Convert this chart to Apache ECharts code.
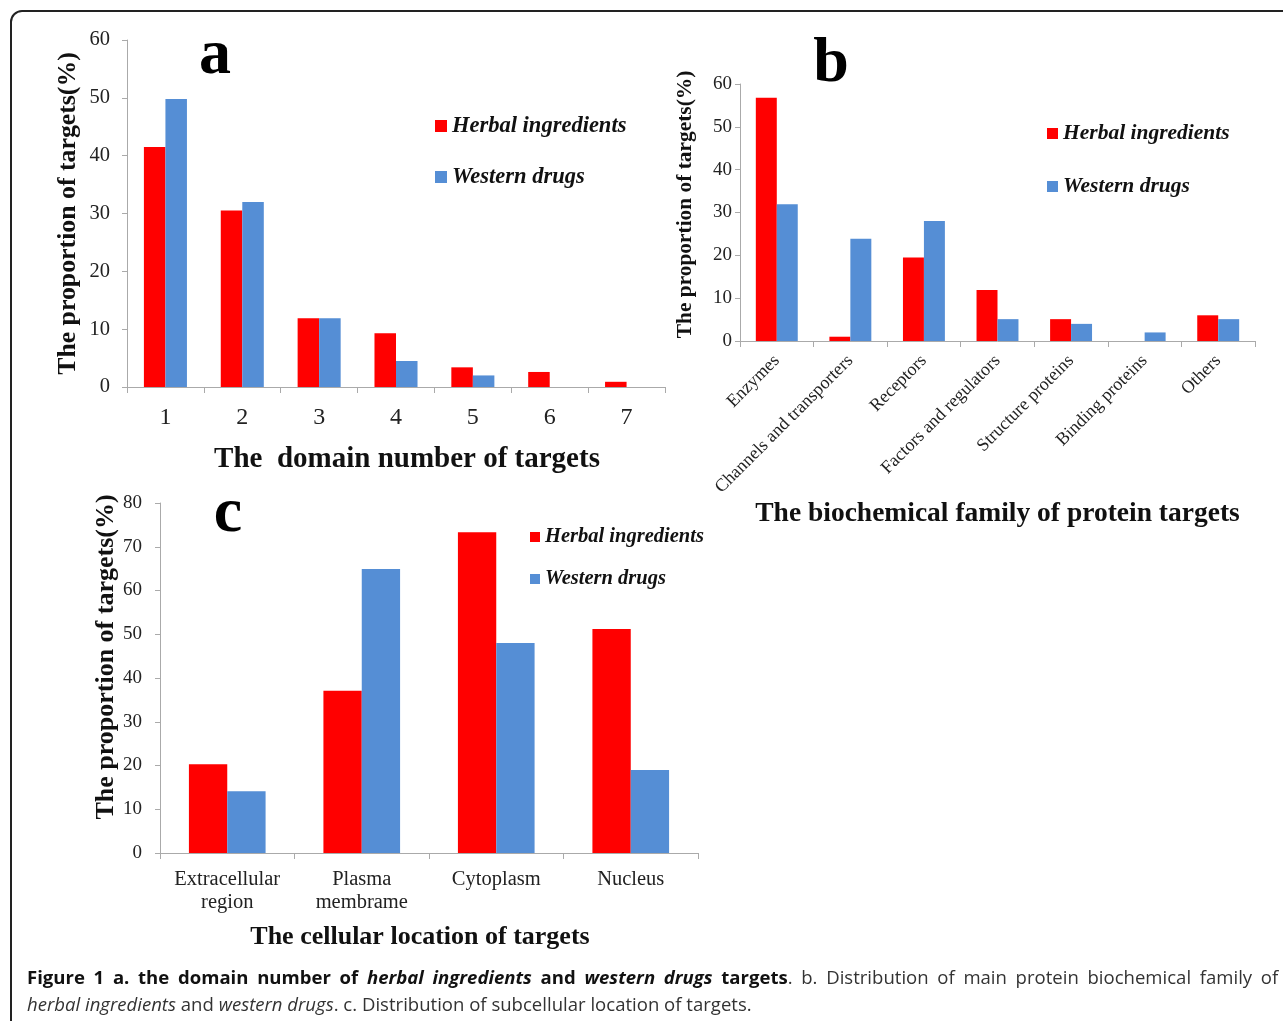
<!DOCTYPE html>
<html><head><meta charset="utf-8">
<script src="https://cdn.jsdelivr.net/npm/echarts@6/dist/echarts.min.js"></script>
<style>html,body{margin:0;padding:0;background:#fff}#c{width:1283px;height:1021px}</style>
</head><body><div id="c"></div>
<script>
const seriesNames = ['Herbal ingredients', 'Western drugs'];
const seriesColors = ['#FF0000', '#558ED5'];

const domainCategories = ['1', '2', '3', '4', '5', '6', '7'];
const domainHerbal = [41.5, 30.5, 11.9, 9.3, 3.4, 2.6, 0.9];
const domainWestern = [49.8, 32.0, 11.9, 4.5, 2.0, 0, 0];
const domainAxis = {min: 0, max: 60, interval: 10};

const familyCategories = ['Enzymes', 'Channels and transporters', 'Receptors', 'Factors and regulators', 'Structure proteins', 'Binding proteins', 'Others'];
const familyHerbal = [56.8, 1.0, 19.5, 11.9, 5.1, 0, 6.0];
const familyWestern = [31.9, 23.9, 28.0, 5.1, 4.0, 2.0, 5.1];
const familyAxis = {min: 0, max: 60, interval: 10};

const locationCategories = ['Extracellular\nregion', 'Plasma\nmembrame', 'Cytoplasm', 'Nucleus'];
const locationHerbal = [20.3, 37.1, 73.3, 51.2];
const locationWestern = [14.1, 64.9, 48.0, 19.0];
const locationAxis = {min: 0, max: 80, interval: 10};

const captionLine1 = [
  ['b', 'Figure 1 a. the domain number of '], ['bi', 'herbal ingredients'], ['b', ' and '],
  ['bi', 'western drugs'], ['b', ' targets'], ['r', '. b. Distribution of main protein biochemical family of']
];
const captionLine2 = [
  ['i', 'herbal ingredients'], ['r', ' and '], ['i', 'western drugs'], ['r', '. c. Distribution of subcellular location of targets.']
];

const SERIF = '"Liberation Serif", "Times New Roman", serif';
const AXC = '#AAAAAA';
const TXT = '#222222';

function xAxisDef(idx, cats, name, opts) {
  return {
    type: 'category', gridIndex: idx, data: cats,
    axisLine: {lineStyle: {color: AXC, width: 1}},
    axisTick: {show: true, length: 6, lineStyle: {color: AXC}},
    axisLabel: Object.assign({color: TXT, fontFamily: SERIF}, opts.label),
    name: name, nameLocation: 'middle', nameGap: opts.nameGap,
    nameTextStyle: Object.assign({fontFamily: SERIF, fontWeight: 'bold', color: '#111'}, opts.nameStyle)
  };
}
function yAxisDef(idx, ax, opts) {
  return {
    type: 'value', gridIndex: idx, min: ax.min, max: ax.max, interval: ax.interval,
    splitLine: {show: false},
    axisLine: {show: true, lineStyle: {color: AXC, width: 1}},
    axisTick: {show: true, length: 5, lineStyle: {color: AXC}},
    axisLabel: {color: TXT, fontFamily: SERIF, fontSize: opts.labelSize, margin: opts.labelMargin},
    name: 'The proportion of targets(%)', nameLocation: 'middle', nameRotate: 90, nameGap: opts.nameGap,
    nameTextStyle: Object.assign({fontFamily: SERIF, fontWeight: 'bold', color: '#111', fontSize: opts.nameSize}, opts.nameStyle || {})
  };
}
function barPair(idx, herbal, western, gap) {
  return [herbal, western].map((d, i) => ({
    type: 'bar', name: seriesNames[i], xAxisIndex: idx, yAxisIndex: idx, data: d,
    itemStyle: {color: seriesColors[i]}, barGap: '0%', barCategoryGap: gap, silent: true, animation: false
  }));
}
function legendDef(left, top, size, lh, gap, icon) {
  return {
    left: left, top: top, orient: 'vertical', icon: 'rect', itemWidth: icon, itemHeight: icon, itemGap: gap,
    padding: 0, data: seriesNames, selectedMode: false,
    textStyle: {fontFamily: SERIF, fontWeight: 'bold', fontStyle: 'italic', fontSize: size, lineHeight: lh, color: '#111'}
  };
}
const CAP = 17.5;
const SPACE_W = 8.2;
function captionText(segs, justify) {
  let out = '';
  segs.forEach(([st, txt]) => {
    if (!justify) { out += '{' + st + '|' + txt + '}'; return; }
    txt.split(/( )/).forEach(p => {
      if (p === '') return;
      if (p === ' ') out += '{s|\u00a0}';
      else out += '{' + st + '|' + p + '}';
    });
  });
  return out;
}
const capRich = {
  b: {fontFamily: 'Open Sans', fontWeight: 'bold', fontSize: CAP, fill: '#111'},
  bi: {fontFamily: 'Open Sans', fontWeight: 'bold', fontStyle: 'italic', fontSize: CAP, fill: '#111'},
  i: {fontFamily: 'Open Sans', fontStyle: 'italic', fontSize: CAP, fill: '#333'},
  r: {fontFamily: 'Open Sans', fontSize: CAP, fill: '#333'},
  s: {fontFamily: 'Open Sans', fontSize: CAP, width: SPACE_W}
};

const option = {
  backgroundColor: '#fff',
  animation: false,
  grid: [
    {left: 127, top: 40, width: 538, height: 347},
    {left: 740, top: 84, width: 515, height: 257},
    {left: 160, top: 503, width: 538, height: 350}
  ],
  legend: [
    legendDef(435, 114, 22.5, 24, 27, 12),
    legendDef(1047, 122, 21.5, 23, 30, 11),
    legendDef(530, 526, 20.5, 22, 20, 10)
  ],
  xAxis: [
    xAxisDef(0, domainCategories, 'The  domain number of targets', {
      label: {fontSize: 24, margin: 19}, nameGap: 58, nameStyle: {fontSize: 29, padding: [0, 0, 0, 22]}}),
    xAxisDef(1, familyCategories, 'The biochemical family of protein targets', {
      label: {fontSize: 18, rotate: 45, margin: 17, interval: 0}, nameGap: 159, nameStyle: {fontSize: 27.5}}),
    xAxisDef(2, locationCategories, 'The cellular location of targets', {
      label: {fontSize: 20.5, lineHeight: 23, margin: 15, interval: 0}, nameGap: 71, nameStyle: {fontSize: 26, padding: [0, 18, 0, 0]}})
  ],
  yAxis: [
    yAxisDef(0, domainAxis, {labelSize: 20.5, labelMargin: 17, nameGap: 46, nameSize: 25.8}),
    yAxisDef(1, familyAxis, {labelSize: 19, labelMargin: 8, nameGap: 44, nameSize: 21.4, nameStyle: {padding: [0, 0, 0, 16]}}),
    yAxisDef(2, locationAxis, {labelSize: 19, labelMargin: 18, nameGap: 30, nameSize: 26, nameStyle: {padding: [0, 0, 0, 42]}})
  ],
  series: [].concat(
    barPair(0, domainHerbal, domainWestern, '44%'),
    barPair(1, familyHerbal, familyWestern, '43%'),
    barPair(2, locationHerbal, locationWestern, '43%')
  ),
  graphic: [
    {type: 'rect', shape: {x: 11, y: 11, width: 1400, height: 1200, r: 11}, style: {fill: 'none', stroke: '#222', lineWidth: 2}, silent: true},
    {type: 'text', x: 215, y: 56, style: {text: 'a', font: 'bold 64px ' + SERIF, fill: '#000', textAlign: 'center', textVerticalAlign: 'middle'}},
    {type: 'text', x: 831, y: 64, style: {text: 'b', font: 'bold 64px ' + SERIF, fill: '#000', textAlign: 'center', textVerticalAlign: 'middle'}},
    {type: 'text', x: 228, y: 514, style: {text: 'c', font: 'bold 64px ' + SERIF, fill: '#000', textAlign: 'center', textVerticalAlign: 'middle'}},
    {type: 'text', x: 27, y: 979, scaleX: 1.06, style: {
      text: captionText(captionLine1, true), textVerticalAlign: 'middle', font: CAP + 'px "Open Sans"', rich: capRich}},
    {type: 'text', x: 27, y: 1006, scaleX: 1.06, style: {
      text: captionText(captionLine2, false), textVerticalAlign: 'middle', font: CAP + 'px "Open Sans"', rich: capRich}}
  ]
};
const chart = echarts.init(document.getElementById('c'), null, {renderer: 'canvas'});
chart.setOption(option);
</script>
</body></html>
